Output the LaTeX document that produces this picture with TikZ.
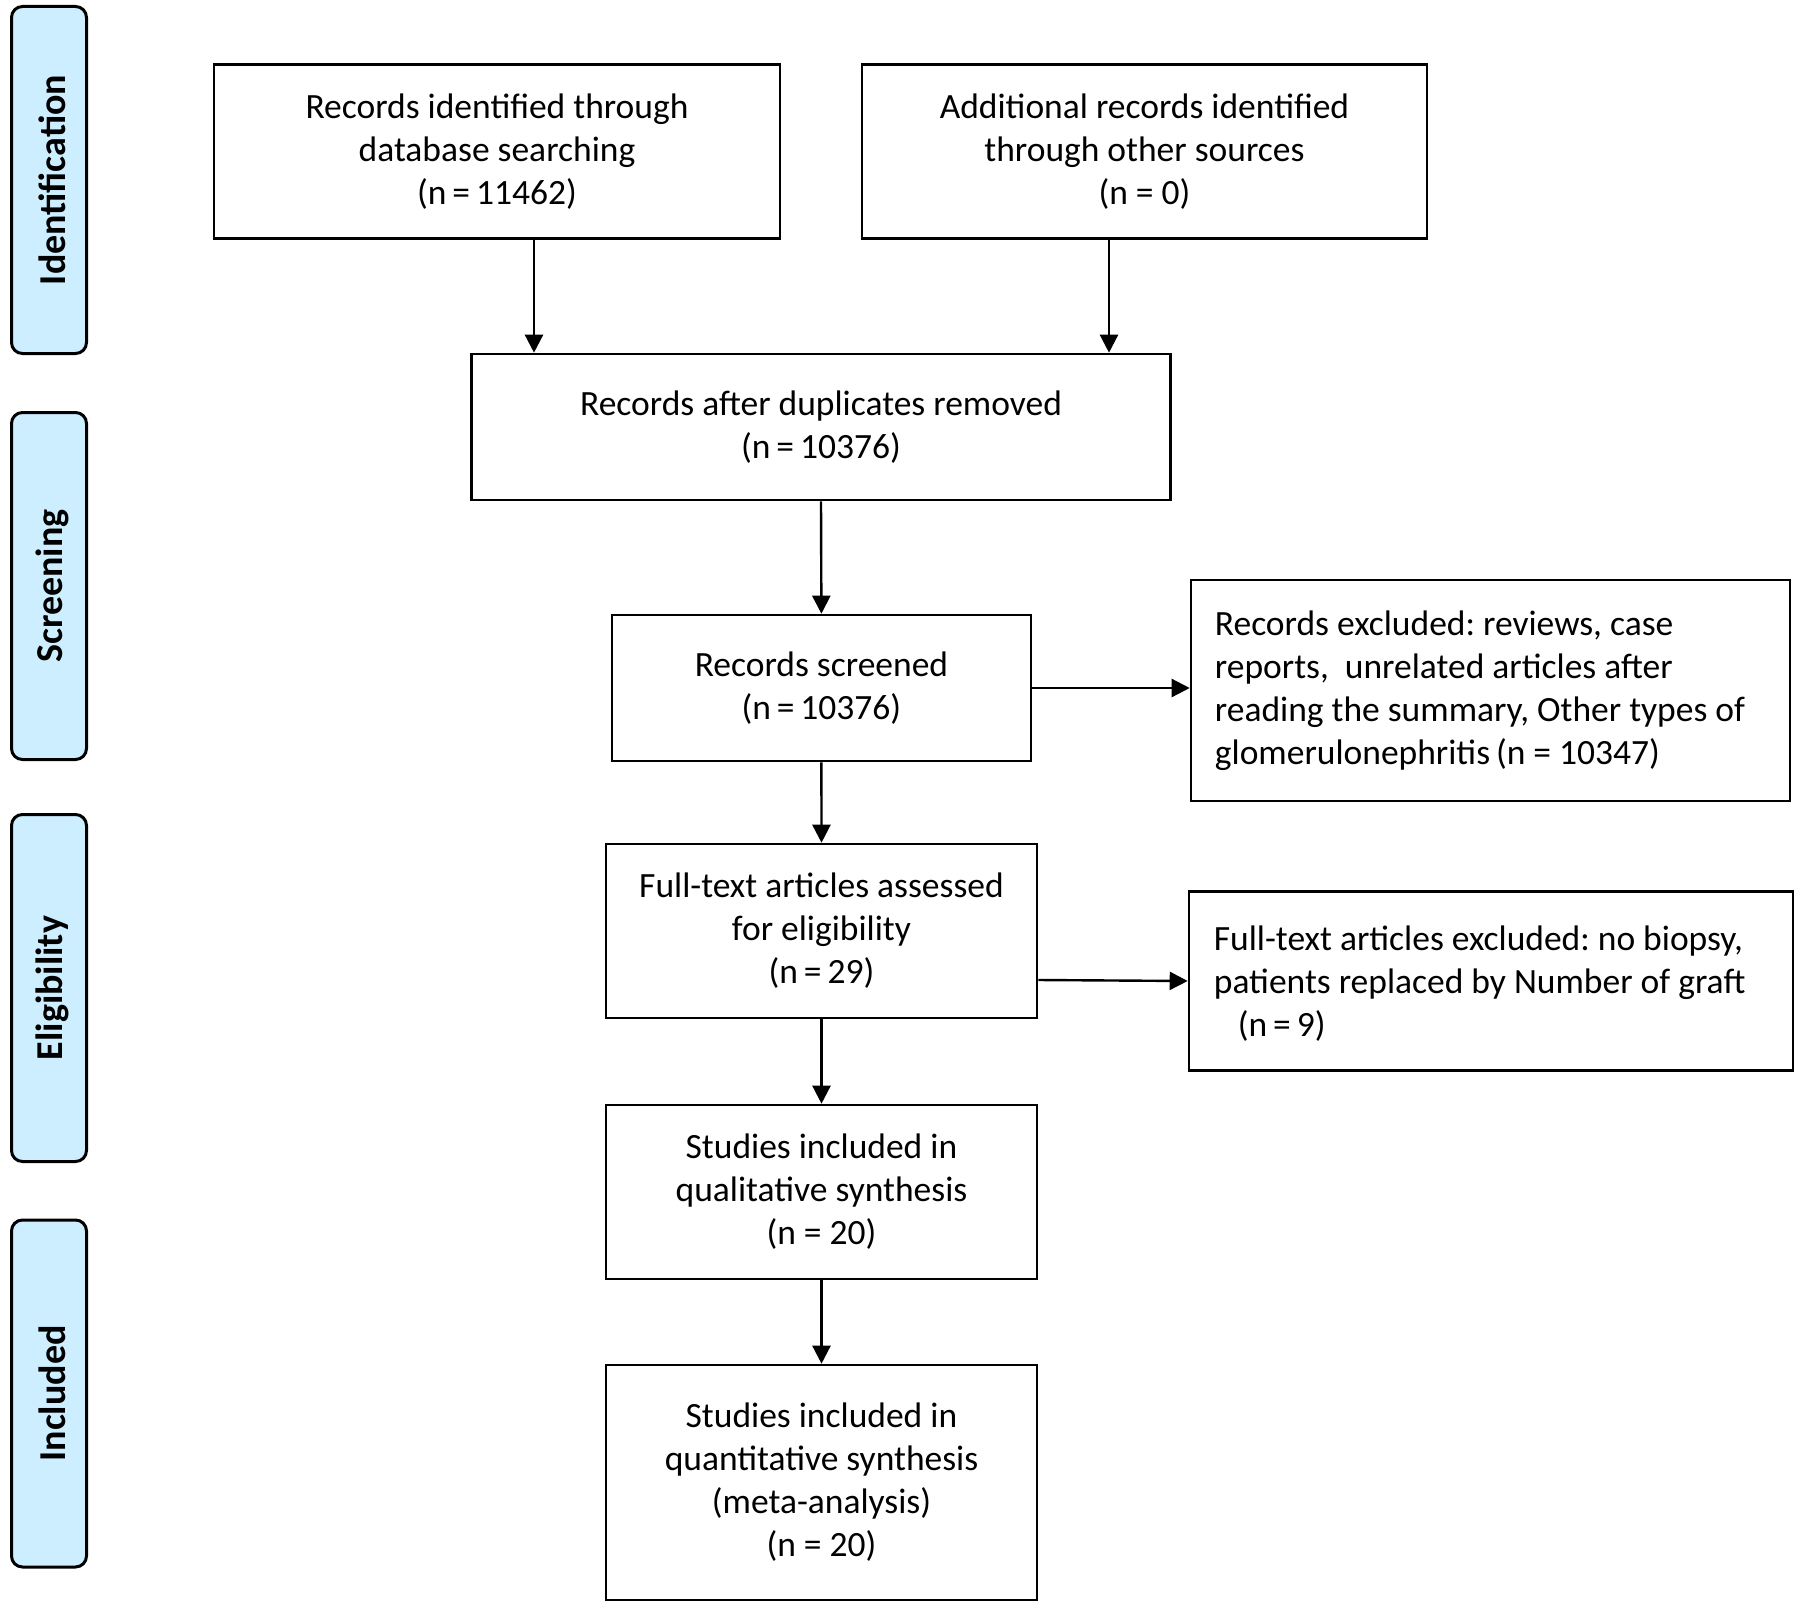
\documentclass[tikz,border=0pt]{standalone}
\usepackage{fontspec}
\setmainfont{Carlito}
\usetikzlibrary{arrows.meta,calc}
\definecolor{tabblue}{HTML}{CCEEFF}
\frenchspacing
\begin{document}
\begin{tikzpicture}[x=1pt,y=-1pt,
  box/.style={draw=black,line width=2.6pt,fill=white,align=center,inner sep=0pt,
    font=\fontsize{35.5}{43}\selectfont},
  ltext/.style={align=left,inner sep=0pt,anchor=west,font=\fontsize{35.5}{43}\selectfont},
  tab/.style={draw=black,line width=3pt,fill=tabblue,rounded corners=11pt,
    minimum width=75pt,minimum height=347pt,inner sep=0pt},
  tablabel/.style={rotate=90,font=\fontsize{38}{44}\bfseries\selectfont},
  arr/.style={line width=2.4pt,-{Triangle[width=18pt,length=18pt]}}]
\useasboundingbox (0,0) rectangle (1800,1603);
\fill[white] (0,0) rectangle (1800,1603);
% phase tabs
\node[tab] (t1) at (49,180) {};
\node[tablabel] (t1l) at ([xshift=3pt]t1.center) {Identification};
\node[tab] (t2) at (49,586) {};
\node[tablabel] (t2l) at ([xshift=3pt]t2.center) {Screening};
\node[tab] (t3) at (49,988) {};
\node[tablabel] (t3l) at ([xshift=3pt]t3.center) {Eligibility};
\node[tab] (t4) at (49,1393.5) {};
\node[tablabel] (t4l) at ([xshift=3pt]t4.center) {Included};
% boxes
\node[box,minimum width=566pt,minimum height=174pt] (b1) at (497,151.5)
  {Records identified through\\database searching\\(n\,=\,11462)};
\node[box,minimum width=565pt,minimum height=174pt] (b2) at (1144.5,151.5)
  {Additional records identified\\through other sources\\(n = 0)};
\node[box,minimum width=699pt,minimum height=146pt] (b3) at (821,427)
  {Records after duplicates removed\\(n\,=\,10376)};
\node[box,minimum width=419pt,minimum height=146pt] (b4) at (821.4,688)
  {Records screened\\(n\,=\,10376)};
\node[box,minimum width=599pt,minimum height=221pt] (b5) at (1490.5,690.5) {};
\node[ltext] (b5t) at ([xshift=25pt,yshift=0pt]b5.west)
  {Records excluded: reviews, case\\reports,\ \ unrelated articles after\\reading the summary, Other types of\\glomerulonephritis\,(n = 10347)};
\node[box,minimum width=431pt,minimum height=174pt] (b6) at (821.5,931)
  {Full-text articles assessed\\for eligibility\\(n\,=\,29)};
\node[box,minimum width=604pt,minimum height=179pt] (b9) at (1491,981) {};
\node[ltext] (b9t) at ([xshift=26pt,yshift=-3pt]b9.west)
  {Full-text articles excluded: no biopsy,\\patients replaced by Number of graft\\\hspace*{24pt}(n\,=\,9)};
\node[box,minimum width=431pt,minimum height=174pt] (b7) at (821.5,1192)
  {Studies included in\\qualitative synthesis\\(n = 20)};
\node[box,minimum width=431pt,minimum height=235pt] (b8) at (821.5,1482.5)
  {Studies included in\\quantitative synthesis\\(meta-analysis)\\(n = 20)};
% arrow guide coordinates
\coordinate (a1x) at (534,0);
\coordinate (a2x) at (1109,0);
% connectors
\draw[arr] (b1.south -| a1x) -- (b3.north -| a1x);
\draw[arr] (b2.south -| a2x) -- (b3.north -| a2x);
\draw[arr] (b3.south) -- (b4.north);
\draw[arr] (b4.east) -- (b4.east -| b5.west);
\draw[arr] (b4.south) -- (b6.north);
\draw[arr] ([yshift=-49pt]b6.east) -- (b9.west);
\draw[arr] (b6.south) -- (b7.north);
\draw[arr] (b7.south) -- (b8.north);
\end{tikzpicture}
\end{document}
